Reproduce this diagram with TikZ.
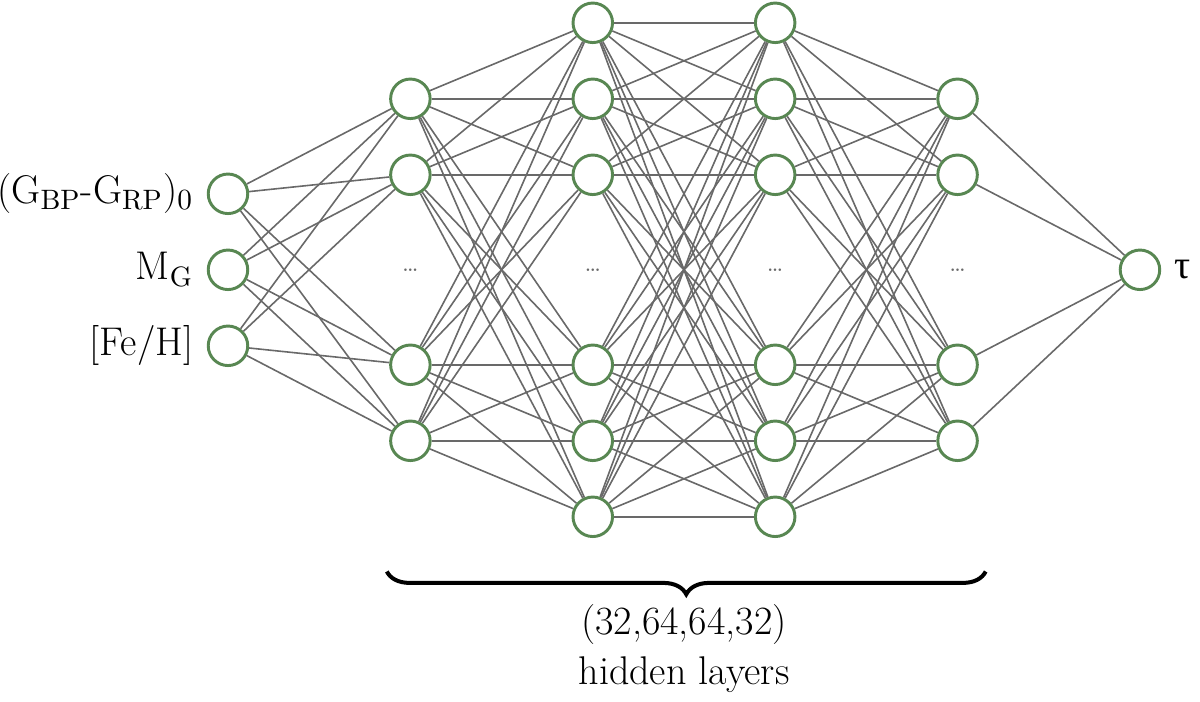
\documentclass[tikz,border=0pt]{standalone}
\usepackage{fontspec}
\newfontfamily\greekfont{Liberation Serif}
\usetikzlibrary{positioning,decorations.pathreplacing}

\definecolor{nodegreen}{RGB}{88,135,82}
\definecolor{linkgray}{RGB}{105,105,105}

\tikzstyle{neuron} = [circle,draw=nodegreen,line width=1.1pt,fill=white,minimum size=0.52cm,inner sep=0pt]
\tikzstyle{link} = [draw=linkgray,line width=0.6pt]
\tikzstyle{inlabel} = [font=\fontsize{15}{18.5}\selectfont,inner sep=0.17cm]
\tikzstyle{morenodes} = [text=linkgray,font=\small]

\begin{document}
\begin{tikzpicture}
		\useasboundingbox (-3.0,-5.68) rectangle (12.79,3.55);
		% input layer
		\node[neuron] (in1) at (0,1) {};
		\node[neuron] (in2) at (0,0) {};
		\node[neuron] (in3) at (0,-1) {};
		% hidden layers
		\node[neuron] (ha1) at (2.4,2.25) {};
		\node[neuron] (ha2) at (2.4,1.25) {};
		\node[neuron] (ha3) at (2.4,-1.25) {};
		\node[neuron] (ha4) at (2.4,-2.25) {};
		\node[neuron] (hb1) at (4.8,3.25) {};
		\node[neuron] (hb2) at (4.8,2.25) {};
		\node[neuron] (hb3) at (4.8,1.25) {};
		\node[neuron] (hb4) at (4.8,-1.25) {};
		\node[neuron] (hb5) at (4.8,-2.25) {};
		\node[neuron] (hb6) at (4.8,-3.25) {};
		\node[neuron] (hc1) at (7.2,3.25) {};
		\node[neuron] (hc2) at (7.2,2.25) {};
		\node[neuron] (hc3) at (7.2,1.25) {};
		\node[neuron] (hc4) at (7.2,-1.25) {};
		\node[neuron] (hc5) at (7.2,-2.25) {};
		\node[neuron] (hc6) at (7.2,-3.25) {};
		\node[neuron] (hd1) at (9.6,2.25) {};
		\node[neuron] (hd2) at (9.6,1.25) {};
		\node[neuron] (hd3) at (9.6,-1.25) {};
		\node[neuron] (hd4) at (9.6,-2.25) {};
		% output layer
		\node[neuron] (out) at (12,0) {};
		
		\node[morenodes] (dots1) at (2.4,0) {\ldots};
		\node[morenodes] (dots2) at (4.8,0) {\ldots};
		\node[morenodes] (dots3) at (7.2,0) {\ldots};
		\node[morenodes] (dots4) at (9.6,0) {\ldots};
		
		\foreach \i in {1,2,3}
			\foreach \j in {1,...,4}
				\draw[link] (in\i) -- (ha\j);
		\foreach \i in {1,...,4}
			\foreach \j in {1,...,6}
				\draw[link] (ha\i) -- (hb\j);
		\foreach \i in {1,...,6}
			\foreach \j in {1,...,6}
				\draw[link] (hb\i) -- (hc\j);
		\foreach \i in {1,...,6}
			\foreach \j in {1,...,4}
				\draw[link] (hc\i) -- (hd\j);
		\foreach \i in {1,...,4}
			\draw[link] (hd\i) -- (out);
		
		\node[inlabel,left=0pt of in1] (lab1) {(G$_{\rm BP}$-G$_{\rm RP}$)$_0$};
		\node[inlabel,left=0pt of in2] (lab2) {M$_{\rm G}$};
		\node[inlabel,left=0pt of in3] (lab3) {[Fe/H]};
		\node[inlabel,right=0pt of out] (lab4) {\greekfont τ};
		
		\coordinate (braceL) at (2.09,-3.97);
		\coordinate (braceR) at (9.97,-3.97);
		\draw[decorate,decoration={brace,mirror,amplitude=0.3cm},line width=1.5pt] (braceL) -- (braceR);
		\node[inlabel,align=center,anchor=north,inner sep=0.1cm] (hidden) at (6.0,-4.3) {(32,64,64,32)\\hidden layers};
		\end{tikzpicture}
\end{document}
